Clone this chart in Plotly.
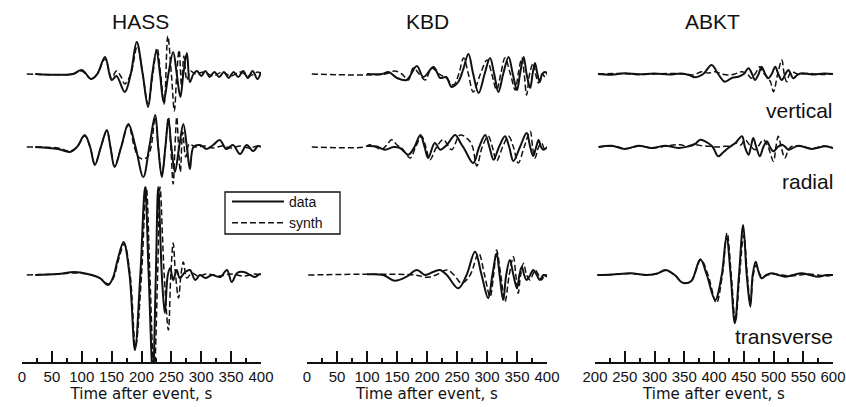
import plotly.graph_objects as go

# ---------------- data (amplitudes in display units, time in s) ----------------
STATIONS = ["HASS", "KBD", "ABKT"]
COMPONENTS = ["vertical", "radial", "transverse"]
X_RANGES = {"HASS": [0, 400], "KBD": [0, 400], "ABKT": [200, 600]}
X_TICKS_HASS = [0, 50, 100, 150, 200, 250, 300, 350, 400]
X_TICKS_ABKT = [200, 250, 300, 350, 400, 450, 500, 550, 600]

# HASS
HASS_V_DATA_T = [22, 85, 100, 116, 126, 139, 150, 158, 172, 182, 192, 202, 211, 218, 225, 231, 237, 245, 253, 259, 265, 270, 276, 281, 287,
                 293, 300, 307, 314, 322, 330, 338, 346, 354, 362, 370, 378, 386, 394, 400]
HASS_V_DATA_A = [0, 0, 4, -5, 0, 17, -6, -2, -18, 0, 32, 0, -33, 0, 23, 0, -28, 0, 22, 0, -23, 0, 21, -8, 0,
                 3, -2, 3, -3, 2, -3, 2, -4, 2, -3, 3, -4, 3, -5, 2]
HASS_V_SYN_T = [8, 85, 100, 116, 126, 139, 150, 158, 166, 172, 182, 193, 202, 211, 219, 226, 232, 238, 244, 250, 255, 259, 263, 267, 271,
                276, 282, 290, 305, 320, 335, 350, 365, 380, 395, 400]
HASS_V_SYN_A = [0, 0, 3, -5, 0, 15, -4, 3, -3, -10, 0, 28, 0, -30, 0, 26, 0, -30, 38, 0, -37, 0, 24, -12, 18,
                -6, 3, 0, 2, -2, 2, -2, 2, -2, 2, 0]

HASS_R_DATA_T = [22, 60, 80, 92, 105, 114, 122, 132, 142, 148, 155, 166, 178, 190, 203, 213, 223, 228, 234, 240, 245, 250, 256, 263, 270,
                 276, 281, 287, 298, 309, 320, 331, 342, 353, 365, 376, 387, 395, 400]
HASS_R_DATA_A = [0, -2, -5, 0, 12, 0, -18, 0, 17, 0, -20, 0, 23, 0, -30, 0, 32, 0, -30, 0, 28, 0, -25, 0, 23,
                 0, -22, 0, 2, -2, 2, 7, -2, 2, -7, 2, -4, 1, 0]
HASS_R_SYN_T = [8, 60, 80, 92, 105, 114, 122, 132, 142, 148, 155, 166, 178, 188, 195, 203, 210, 216, 223, 228, 234, 240, 245, 249,
                253, 256, 259, 262, 265, 269, 274, 280, 290, 305, 320, 335, 350, 365, 380, 395, 400]
HASS_R_SYN_A = [0, -1, -4, 0, 11, 0, -17, 0, 16, 0, -19, 0, 22, 0, -10, -12, -10, 0, 30, 0, -28, 0, 30, 0,
                -37, 0, 30, 0, -25, 15, -10, 3, 0, 1, -1, 1, -1, 1, -1, 1, 0]

HASS_T_DATA_T = [22, 60, 88, 110, 130, 144, 152, 160, 170, 180, 189, 198, 206, 212, 219, 224, 228, 234, 239, 244,
                 248, 253, 259, 264, 273, 281, 290, 298, 307, 318, 332, 343, 351, 360, 371, 382, 390, 398, 400]
HASS_T_DATA_A = [0, 1, 3, 1, -3, -10, -3, 15, 33, 0, -75, 0, 88, 0, -100, 0, 88, 0, -38, 0,
                 7, -5, 5, -3, 3, 5, -5, 0, -3, 0, -2, 5, -7, 2, 3, 0, -2, 1, 0]
HASS_T_SYN_T = [8, 60, 88, 110, 130, 145, 153, 161, 171, 181, 190, 200, 208, 214, 221, 227, 231, 238, 245, 249, 253,
                257, 262, 266, 270, 276, 284, 295, 310, 330, 350, 370, 390, 400]
HASS_T_SYN_A = [0, 1, 2, 1, -3, -9, -3, 14, 31, 0, -72, 0, 88, 0, -100, 0, 88, 0, -55, 0, 32,
                0, -23, 0, 13, -3, 2, -1, 1, -1, 1, -1, 1, 0]

# KBD
KBD_V_DATA_T = [100, 125, 136, 150, 166, 183, 194, 211, 222, 232, 241, 252, 260, 269, 277, 286, 296, 305, 312, 319, 327, 336,
                343, 350, 355, 361, 366, 372, 376, 380, 384, 388, 392, 397, 401]
KBD_V_DATA_A = [0, 0, 2, -4, -6, 8, -3, 7, -4, -3, -13, -8, 4, 20, 0, -19, 0, 16, 0, -18, 0, 17,
                0, -16, 0, 17, 0, -14, 0, 11, 0, -8, 0, 2, 0]
KBD_V_SYN_T = [8, 130, 146, 158, 169, 177, 187, 197, 208, 220, 232, 244, 253, 261, 269, 277, 289, 300, 308, 316, 323, 330,
               339, 347, 352, 358, 362, 366, 371, 377, 381, 386, 392, 397, 401]
KBD_V_SYN_A = [0, 0, 3, 0, -6, 6, 0, -6, 6, 0, -4, -11, 0, 16, 0, -18, 0, 14, 0, -16, 0, 16,
               0, -16, 0, 16, 0, -21, 0, 11, 0, -9, 0, -3, 0]

KBD_R_DATA_T = [100, 116, 130, 144, 155, 169, 179, 189, 196, 202, 213, 222, 233, 247, 256, 263, 277, 287, 297, 304, 311, 320,
                330, 337, 344, 355, 366, 372, 377, 382, 386, 390, 394, 401]
KBD_R_DATA_A = [1, 0.5, -2.7, 0, -1, -7.7, 0, 12, 0, -11, 4, -2.7, 2, 12, 4, -2.7, -16, 0, 12, 0, -12.7, 0,
                10.7, 0, -14, 0, 14, 0, -9, 0, 7, 0, -2.7, 0]
KBD_R_SYN_T = [8, 95, 105, 115, 124, 133, 141, 150, 158, 172, 181, 191, 198, 205, 216, 227, 241, 255, 269, 276, 283, 292,
               302, 309, 316, 326, 336, 344, 352, 362, 372, 376, 380, 386, 391, 396, 401]
KBD_R_SYN_A = [0, 0, 2.3, 0, -2.7, 2, 7.3, 2, -1, -11, 0, 10.7, 0, -12.7, 0, 7.3, -2.7, 12, 7.3, 0, -19, 0,
               10.7, 0, -14, 0, 10.7, 0, -16, 0, 15.7, 0, -11, 0, 4, -2, 0]

KBD_T_DATA_T = [100, 127, 146, 166, 183, 197, 211, 222, 233, 252, 266, 280, 291, 302, 309, 316, 321, 327, 332, 338,
                344, 350, 354, 358, 362, 366, 372, 377, 383, 388, 394, 400]
KBD_T_DATA_A = [0.7, 0, -5.7, -1.7, 5, 0, 3.3, 5, 0, -13.3, 0, 23.3, 0, -23.3, 0, 21.7, 0, -25, 0, 15,
                0, -13.3, 0, 8.3, 0, -5, 0, 5, 0, -5, 0, -1.7]
KBD_T_SYN_T = [2, 180, 200, 215, 233, 245, 258, 272, 286, 296, 305, 311, 316, 323, 330, 337, 344, 348, 352, 356,
               361, 366, 372, 376, 380, 386, 391, 396, 400]
KBD_T_SYN_A = [0, 0, -2.3, 0, 5, 0, -8.3, 0, 21.7, 0, -21.7, 0, 25, 0, -26.7, 0, 18.3, 0, -18.3, 0,
               11.7, 0, -5, 0, 5, 0, -5, 0, 0]

# ABKT
ABKT_V_DATA_T = [205, 228, 250, 273, 300, 325, 345, 358, 368, 382, 396, 407, 418, 430, 441, 450, 458, 464, 469, 475, 480,
                 486, 491, 497, 503, 508, 514, 520, 525, 529, 533, 540, 548, 565, 585, 600]
ABKT_V_DATA_A = [0, -0.7, 0.7, -0.3, 0.5, -0.5, 0.5, -1, -3.3, 0, 9, 0, -7.7, -4, -2.7, 0, 5.7, 0, -6, 0, 7.3,
                 0, -4.3, 0, 7.3, 0, -6, 0, 4, 0, -4.3, -1, 0.7, -0.5, 0.5, 0]
ABKT_V_SYN_T = [205, 240, 280, 320, 350, 365, 379, 390, 402, 413, 424, 435, 447, 456, 463, 470, 477, 483, 489, 495, 500,
                507, 514, 518, 522, 527, 531, 540, 560, 580, 600]
ABKT_V_SYN_A = [0, 0.5, -0.5, 0.5, 0, -1, 2.3, 1, 2.3, 0, -1, 0, 2.3, 0, -4.3, 1, 7.3, 1, -2.7, -8, -17.7,
                0, 14, 0, -7.7, 0, 2.3, 0, 0.5, -0.5, 0]

ABKT_R_DATA_T = [206, 228, 250, 273, 295, 318, 340, 357, 368, 377, 390, 398, 407, 416, 424, 436, 447, 452, 458, 462, 466,
                 471, 477, 483, 489, 494, 500, 507, 514, 520, 525, 542, 564, 587, 600]
ABKT_R_DATA_A = [0, 1.3, -2, 1.3, -1, 1.3, -1, 0.7, 3, 7.3, 4, 0, -9.3, -5, -1, 4, 10.7, 0, -7.7, 0, 9,
                 0, -9.3, 0, 5.7, 0, -4.3, 0, 2.3, 0, -2.7, 1.3, -2, 0.7, -1]
ABKT_R_SYN_T = [206, 230, 252, 275, 297, 320, 343, 356, 368, 382, 396, 407, 418, 428, 438, 445, 452, 460, 469, 476, 483,
                491, 500, 504, 508, 513, 519, 525, 531, 545, 565, 585, 600]
ABKT_R_SYN_A = [0, 1, -1.5, 1, -1, 1, 2.3, 0.5, 2.3, 1, 0.7, 0, 0.7, 1, 4, 2, 7.3, 2, -2.7, 2, 7.3,
                0, -14.3, 0, 10.7, 0, -11, -3, 0.7, 1, -1.5, 1, -1]

ABKT_T_DATA_T = [204, 230, 260, 288, 305, 318, 334, 345, 351, 362, 377, 388, 402, 413, 421, 428, 435, 442, 449, 455, 461,
                 465, 470, 475, 480, 488, 497, 508, 519, 533, 547, 561, 575, 589, 600]
ABKT_T_DATA_A = [0, 0.5, 1.7, 0, 1.5, 5, 0, -7, -8.3, -6, 15.7, 0, -25, 0, 38.3, 0, -48.3, 0, 50, 0, -31.7,
                 0, 13.3, 3, -3.3, 0, 1.7, 0, -1.7, 0, 1.7, 0, -1.7, 0, 0]
ABKT_T_SYN_T = [204, 230, 260, 288, 305, 319, 334, 345, 352, 362, 378, 390, 404, 414, 422, 429, 436, 443, 450, 456, 461,
                466, 471, 476, 481, 490, 500, 515, 530, 545, 560, 575, 590, 600]
ABKT_T_SYN_A = [0, 0.5, 1.5, 0, 1.5, 4.5, 0, -7, -8, -6, 15, 0, -28, 0, 42, 0, -47, 0, 40, 0, -28,
                0, 10, 2, -2, 0, 1, 0, -1, 0, 1, 0, -1, 0]

SERIES = {
    ("HASS", "vertical"): (HASS_V_DATA_T, HASS_V_DATA_A, HASS_V_SYN_T, HASS_V_SYN_A),
    ("HASS", "radial"): (HASS_R_DATA_T, HASS_R_DATA_A, HASS_R_SYN_T, HASS_R_SYN_A),
    ("HASS", "transverse"): (HASS_T_DATA_T, HASS_T_DATA_A, HASS_T_SYN_T, HASS_T_SYN_A),
    ("KBD", "vertical"): (KBD_V_DATA_T, KBD_V_DATA_A, KBD_V_SYN_T, KBD_V_SYN_A),
    ("KBD", "radial"): (KBD_R_DATA_T, KBD_R_DATA_A, KBD_R_SYN_T, KBD_R_SYN_A),
    ("KBD", "transverse"): (KBD_T_DATA_T, KBD_T_DATA_A, KBD_T_SYN_T, KBD_T_SYN_A),
    ("ABKT", "vertical"): (ABKT_V_DATA_T, ABKT_V_DATA_A, ABKT_V_SYN_T, ABKT_V_SYN_A),
    ("ABKT", "radial"): (ABKT_R_DATA_T, ABKT_R_DATA_A, ABKT_R_SYN_T, ABKT_R_SYN_A),
    ("ABKT", "transverse"): (ABKT_T_DATA_T, ABKT_T_DATA_A, ABKT_T_SYN_T, ABKT_T_SYN_A),
}

# ---------------- layout / styling ----------------
W, H = 846, 407
AXIS_Y = 362                 # axis line position in window px
MB = H - AXIS_Y
PH = H - MB                  # plot-area height in px
DOMAINS = {"HASS": (22, 261), "KBD": (307, 547), "ABKT": (595, 833)}
AX = {"HASS": ("x", "xaxis"), "KBD": ("x2", "xaxis2"), "ABKT": ("x3", "xaxis3")}
BASE_PY = {"vertical": 74, "radial": 147, "transverse": 275}
TICK_FONT = "Liberation Sans, Arial, sans-serif"
TITLE_FONT = "DejaVu Sans, Liberation Sans, sans-serif"
LABEL_FONT = "Liberation Sans, Arial, Helvetica, sans-serif"
INK = "#111111"


def px_x(p):
    return p / W


def px_y(p):
    return (PH - p) / PH


BASELINE = {c: PH - p for c, p in BASE_PY.items()}

fig = go.Figure()
shown = {"data": False, "synth": False}
for st in STATIONS:
    xref = AX[st][0]
    for comp in COMPONENTS:
        dt, da, stt, sa = SERIES[(st, comp)]
        off = BASELINE[comp]
        fig.add_trace(go.Scatter(
            x=stt, y=[off + v for v in sa], xaxis=xref, yaxis="y", mode="lines",
            line=dict(color=INK, width=1.5, dash="6px,3px", shape="spline", smoothing=1.0),
            name="synth", legendgroup="synth", showlegend=not shown["synth"], legendrank=2,
            hoverinfo="skip"))
        shown["synth"] = True
        fig.add_trace(go.Scatter(
            x=dt, y=[off + v for v in da], xaxis=xref, yaxis="y", mode="lines",
            line=dict(color=INK, width=2, shape="spline", smoothing=1.0),
            name="data", legendgroup="data", showlegend=not shown["data"], legendrank=1,
            hoverinfo="skip"))
        shown["data"] = True

layout = dict(
    template="none",
    width=W, height=H,
    margin=dict(l=0, r=0, t=0, b=MB, pad=0, autoexpand=False),
    paper_bgcolor="white", plot_bgcolor="white",
    yaxis=dict(range=[0, PH], visible=False, fixedrange=True, automargin=False),
    showlegend=True,
    legend=dict(x=px_x(227), y=px_y(186), xanchor="left", yanchor="top",
                borderwidth=0, bgcolor="rgba(0,0,0,0)",
                font=dict(family=LABEL_FONT, size=14, color=INK),
                tracegroupgap=0, itemwidth=52, traceorder="normal"),
)
for st in STATIONS:
    a0, a1 = DOMAINS[st]
    layout[AX[st][1]] = dict(
        domain=[px_x(a0), px_x(a1)], range=X_RANGES[st], anchor="y", automargin=False,
        tickmode="array", tickvals=(X_TICKS_ABKT if st == "ABKT" else X_TICKS_HASS),
        ticks="inside", ticklen=11, tickwidth=1.5, tickcolor=INK,
        showline=True, linecolor=INK, linewidth=1.5,
        showgrid=False, zeroline=False, fixedrange=True, ticklabeloverflow="allow",
        minor=dict(dtick=25, tick0=0, ticks="inside", ticklen=4, tickwidth=1.5,
                   tickcolor=INK, showgrid=False),
        tickfont=dict(family=TICK_FONT, size=15, color=INK),
        title=dict(text="Time after event, s", standoff=4,
                   font=dict(family=TITLE_FONT, size=15, color=INK)),
    )
fig.update_layout(**layout)

# legend frame
fig.add_shape(type="rect", xref="paper", yref="paper",
              x0=px_x(225), x1=px_x(340), y0=px_y(234), y1=px_y(192),
              line=dict(color=INK, width=1.3), fillcolor="rgba(0,0,0,0)", layer="above")

titles = {"HASS": 140, "KBD": 428, "ABKT": 712}
for st, cx in titles.items():
    fig.add_annotation(text=st, x=px_x(cx), y=px_y(22), xref="paper", yref="paper",
                       showarrow=False, xanchor="center", yanchor="middle",
                       font=dict(family=LABEL_FONT, size=21, color=INK))
comp_label_y = {"vertical": 110, "radial": 182, "transverse": 336}
for comp, py in comp_label_y.items():
    fig.add_annotation(text=comp, x=px_x(835), y=px_y(py), xref="paper", yref="paper",
                       showarrow=False, xanchor="right", yanchor="middle",
                       font=dict(family=LABEL_FONT, size=21, color=INK))

fig.write_html(
    "out.html",
    config={"displayModeBar": False},
    post_script="document.body.style.margin='0';document.body.style.overflow='hidden';",
)
